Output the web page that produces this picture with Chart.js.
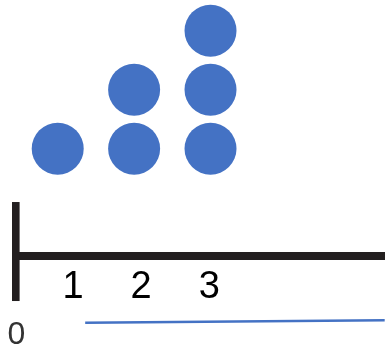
<!DOCTYPE html>
<html>
<head>
<meta charset="utf-8">
<script src="https://cdn.jsdelivr.net/npm/chart.js@4"></script>
<style>
  html, body { margin: 0; padding: 0; background: #fff; }
  #wrap { width: 385px; height: 351px; }
</style>
</head>
<body>
<div id="wrap"><canvas id="dotChart" width="385" height="351"></canvas></div>
<script>
// Dot plot: number of dots stacked over each value
const categories = [1, 2, 3];
const counts = [1, 2, 3];
const tickLabels = ['1', '2', '3'];

// Thin blue line below the axis (start of the lower plot)
const lineX = [1.36, 5.28];
const lineY = [-1.95, -1.91];
const zeroLabel = '0';

const DOT_BLUE = '#4472C4';
const AXIS_BLACK = '#231F20';

// Build the stacked dot positions from the counts
function buildDots() {
    const pts = [];
    categories.forEach((c, i) => {
        for (let level = 1; level <= counts[i]; level++) {
            pts.push({ x: c, y: level });
        }
    });
    return pts;
}

// Draws the short vertical stroke at the left end of the axis and the "0" under it
const axisExtras = {
    id: 'axisExtras',
    afterDraw(chart) {
        const { ctx, scales: { x2, y } } = chart;
        const axisPx = y.getPixelForValue(-0.82);
        ctx.save();
        ctx.fillStyle = AXIS_BLACK;
        ctx.fillRect(x2.left - 4, axisPx - 54, 7.6, 99);
        ctx.font = '32px "Liberation Sans", Arial, sans-serif';
        ctx.fillStyle = '#333333';
        ctx.textAlign = 'center';
        ctx.textBaseline = 'middle';
        ctx.fillText(zeroLabel, 16.5, 335);
        ctx.restore();
    }
};

new Chart(document.getElementById('dotChart'), {
    type: 'scatter',
    data: {
        datasets: [{
            label: 'dots',
            data: buildDots(),
            backgroundColor: DOT_BLUE,
            borderWidth: 0,
            pointRadius: 26,
            pointHoverRadius: 26
        }, {
            label: 'lower line',
            type: 'line',
            data: lineX.map((x, i) => ({ x: x, y: lineY[i] })),
            borderColor: DOT_BLUE,
            borderWidth: 2.5,
            pointRadius: 0,
            fill: false
        }]
    },
    options: {
        responsive: false,
        animation: false,
        devicePixelRatio: 1,
        layout: {
            autoPadding: false,
            padding: { left: 16, right: 0, top: 0, bottom: 0 }
        },
        plugins: {
            legend: { display: false },
            tooltip: { enabled: false }
        },
        scales: {
            x: { type: 'linear', display: false, min: 0.454, max: 5.284 },
            y: { type: 'linear', display: false, min: -2.43, max: 3.52 },
            x2: {
                type: 'linear',
                position: { y: -0.82 },
                min: 0.164,
                max: 5.578,
                afterBuildTicks: (scale) => {
                    scale.ticks = categories.map(v => ({ value: v }));
                },
                grid: { display: false, drawTicks: false },
                border: { display: true, color: AXIS_BLACK, width: 8 },
                ticks: {
                    autoSkip: false,
                    maxRotation: 0,
                    padding: 9,
                    color: '#000',
                    font: { family: '"Liberation Sans", Arial, sans-serif', size: 38 },
                    callback: (v) => tickLabels[categories.indexOf(v)] || ''
                }
            }
        }
    },
    plugins: [axisExtras]
});
</script>
</body>
</html>
